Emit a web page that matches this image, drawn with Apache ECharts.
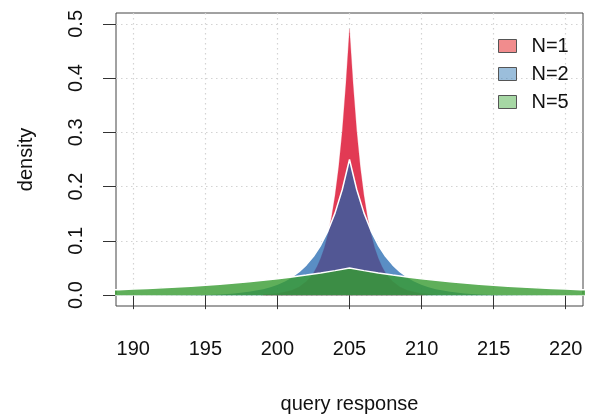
<!DOCTYPE html>
<html>
<head>
<meta charset="utf-8">
<script src="https://cdn.jsdelivr.net/npm/echarts@6/dist/echarts.min.js"></script>
<style>
html,body{margin:0;padding:0;background:#fff;}
#chart{width:596px;height:418px;}
</style>
</head>
<body>
<div id="chart"></div>
<script>
// N=1 density (query response, density)
var redX = [199, 200, 200.5, 201, 201.5, 202, 202.25, 202.5, 202.75, 203, 203.25, 203.5, 203.75, 204, 204.25, 204.5, 204.75, 205,
            205.25, 205.5, 205.75, 206, 206.25, 206.5, 206.75, 207, 207.25, 207.5, 207.75, 208, 208.5, 209, 209.5, 210, 211];
var redY = [0.001, 0.003, 0.006, 0.009, 0.015, 0.025, 0.032, 0.041, 0.053, 0.068, 0.087, 0.112, 0.143, 0.184, 0.236, 0.303, 0.389, 0.49,
            0.389, 0.303, 0.236, 0.184, 0.143, 0.112, 0.087, 0.068, 0.053, 0.041, 0.032, 0.025, 0.015, 0.009, 0.006, 0.003, 0.001];
// N=2 density
var blueX = [188, 191, 193, 195, 196, 197, 198, 199, 199.5, 200, 200.5, 201, 201.5, 202, 202.5, 203, 203.5, 204, 204.5, 205,
             205.5, 206, 206.5, 207, 207.5, 208, 208.5, 209, 209.5, 210, 210.5, 211, 212, 213, 214, 215, 217, 219, 222];
var blueY = [0.0001, 0.0002, 0.0006, 0.0017, 0.0028, 0.0046, 0.0075, 0.0124, 0.016, 0.0205, 0.0263, 0.0338, 0.0434, 0.0558, 0.0716, 0.092, 0.1181, 0.1516, 0.1947, 0.25,
             0.1947, 0.1516, 0.1181, 0.092, 0.0716, 0.0558, 0.0434, 0.0338, 0.0263, 0.0205, 0.016, 0.0124, 0.0075, 0.0046, 0.0028, 0.0017, 0.0006, 0.0002, 0.0001];
// N=5 density
var greenX = [188, 189, 190, 191, 192, 193, 194, 195, 196, 197, 198, 199, 200, 201, 202, 203, 204, 205,
              206, 207, 208, 209, 210, 211, 212, 213, 214, 215, 216, 217, 218, 219, 220, 221, 222];
var greenY = [0.0091, 0.0101, 0.0112, 0.0123, 0.0136, 0.0151, 0.0166, 0.0184, 0.0203, 0.0225, 0.0248, 0.0274, 0.0303, 0.0335, 0.037, 0.0409, 0.0452, 0.05,
              0.0452, 0.0409, 0.037, 0.0335, 0.0303, 0.0274, 0.0248, 0.0225, 0.0203, 0.0184, 0.0166, 0.0151, 0.0136, 0.0123, 0.0112, 0.0101, 0.0091];
var xTicks = [190, 195, 200, 205, 210, 215, 220];
var yTicks = [0, 0.1, 0.2, 0.3, 0.4, 0.5];
var seriesNames = ['N=1', 'N=2', 'N=5'];

function pairs(xs, ys) { return xs.map(function (x, i) { return [x, ys[i]]; }); }

var FONT = 'Liberation Sans, Arial, Helvetica, sans-serif';
var chart = echarts.init(document.getElementById('chart'), null, {renderer: 'canvas'});
chart.setOption({
  animation: false,
  backgroundColor: '#ffffff',
  grid: {left: 116, right: 13, top: 13, bottom: 112, show: true, borderColor: '#444', borderWidth: 1,
         backgroundColor: 'transparent', containLabel: false, outerBoundsMode: 'none'},
  legend: {
    orient: 'vertical', left: 493, top: 31, itemWidth: 18, itemHeight: 13, itemGap: 8,
    textStyle: {fontFamily: FONT, fontSize: 20, color: '#111', padding: [0, 0, 0, 10]},
    data: [
      {name: 'N=1', icon: 'rect', itemStyle: {color: 'rgba(228,26,28,0.5)', borderColor: '#555', borderWidth: 1}},
      {name: 'N=2', icon: 'rect', itemStyle: {color: 'rgba(55,126,184,0.5)', borderColor: '#555', borderWidth: 1}},
      {name: 'N=5', icon: 'rect', itemStyle: {color: 'rgba(77,175,74,0.5)', borderColor: '#555', borderWidth: 1}}
    ]
  },
  xAxis: {
    type: 'value', min: 188.8, max: 221.2,
    name: 'query response', nameLocation: 'middle', nameGap: 88,
    nameTextStyle: {fontFamily: FONT, fontSize: 20, color: '#111'},
    axisLine: {show: false},
    axisTick: {show: true, length: 14, lineStyle: {color: '#333', width: 1}, customValues: xTicks},
    axisLabel: {fontFamily: FONT, fontSize: 20, color: '#111', margin: 33, customValues: xTicks},
    splitLine: {show: true, lineStyle: {color: '#d3d3d3', type: [1.5, 3.5], width: 1.2}, customValues: xTicks}
  },
  yAxis: {
    type: 'value', min: -0.02, max: 0.52,
    name: 'density', nameLocation: 'middle', nameGap: 80,
    nameTextStyle: {fontFamily: FONT, fontSize: 20, color: '#111'},
    axisLine: {show: false},
    axisTick: {show: true, length: 13, lineStyle: {color: '#333', width: 1}, customValues: yTicks},
    axisLabel: {fontFamily: FONT, fontSize: 20, color: '#111', margin: 30, rotate: 90,
                customValues: yTicks, formatter: function (v) { return v.toFixed(1); }},
    splitLine: {show: true, lineStyle: {color: '#d3d3d3', type: [1.5, 3.5], width: 1.2}, customValues: yTicks}
  },
  series: [
    {name: seriesNames[0], type: 'line', z: 2, data: pairs(redX, redY), showSymbol: false, symbol: 'none',
     itemStyle: {color: 'rgba(228,26,28,0.5)'},
     lineStyle: {width: 0.5, color: 'rgba(226,58,84,0.5)'},
     areaStyle: {color: 'rgb(226,58,84)', opacity: 1}},
    {name: seriesNames[1], type: 'line', z: 3, data: pairs(blueX, blueY), showSymbol: false, symbol: 'none',
     itemStyle: {color: 'rgba(55,126,184,0.5)'},
     lineStyle: {width: 1.5, color: '#ffffff'},
     areaStyle: {color: 'rgb(27,99,173)', opacity: 0.72}},
    {name: seriesNames[2], type: 'line', z: 4, data: pairs(greenX, greenY), showSymbol: false, symbol: 'none',
     itemStyle: {color: 'rgba(77,175,74,0.5)'},
     lineStyle: {width: 1.5, color: '#ffffff'},
     areaStyle: {color: 'rgb(55,155,49)', opacity: 0.8}}
  ]
});
</script>
</body>
</html>
